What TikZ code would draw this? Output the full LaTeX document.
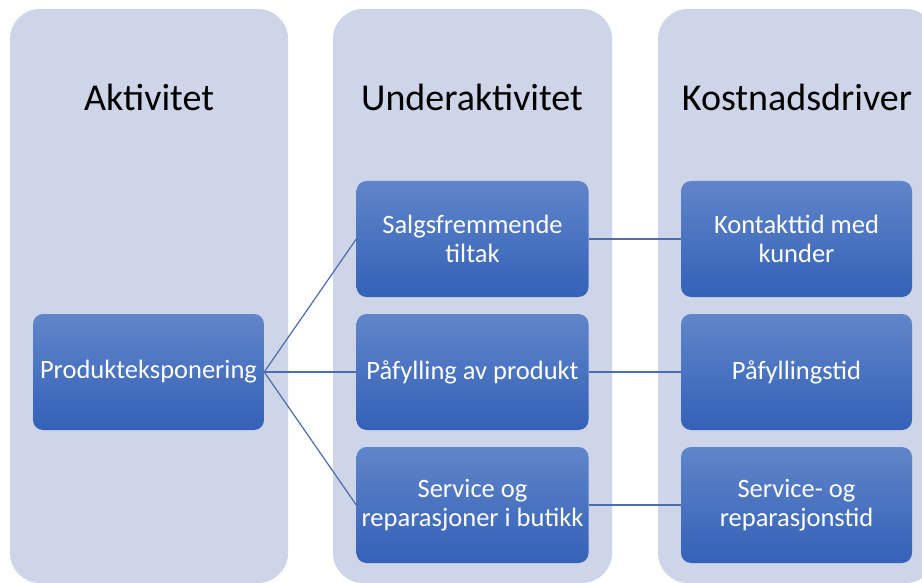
\documentclass[tikz,border=0pt]{standalone}
\usepackage{fontspec}
\setmainfont{Carlito}
\definecolor{colbg}{HTML}{CFD5E8}
\definecolor{boxtop}{HTML}{6085C9}
\definecolor{boxbot}{HTML}{3461B8}
\definecolor{linec}{HTML}{4C6CAD}
\tikzset{
  colbox/.style={fill=colbg, rounded corners=30pt, draw=none},
  title/.style={font=\fontsize{38}{44}\selectfont, text=black, anchor=center},
  itembox/.style={rectangle, rounded corners=10pt, top color=boxtop, bottom color=boxbot, draw=none,
    minimum width=232pt, minimum height=116pt, text=white, align=center,
    font=\fontsize{26.5}{29}\selectfont, inner sep=0pt},
  conn/.style={draw=linec, line width=1.2pt}
}
\begin{document}
\begin{tikzpicture}[x=1pt,y=-1pt]
\useasboundingbox (0,0) rectangle (922,583);
\clip (0,0) rectangle (922,583);
\fill[white] (0,0) rectangle (922,583);
% columns
\path[colbox] (10,9) rectangle (288,583);
\path[colbox] (333,9) rectangle (612,583);
\path[colbox] (658,9) rectangle (936,583);
% titles
\node[title] (t1) at (149,97) {Aktivitet};
\node[title] (t2) at (472,97) {Underaktivitet};
\node[title] (t3) at (797,97) {Kostnadsdriver};
% boxes
\node[itembox, minimum width=231pt] (a) at (148.5,372) {Produkteksponering};
\node[itembox] (b1) at (472.5,239) {Salgsfremmende\\tiltak};
\node[itembox] (b2) at (472.5,372) {Påfylling av produkt};
\node[itembox] (b3) at (472.5,505) {Service og\\reparasjoner i butikk};
\node[itembox, minimum width=231pt] (c1) at (796.5,239) {Kontakttid med\\kunder};
\node[itembox, minimum width=231pt] (c2) at (796.5,372) {Påfyllingstid};
\node[itembox, minimum width=231pt] (c3) at (796.5,505) {Service- og\\reparasjonstid};
% connectors
\draw[conn] (a.east) -- (b1.west);
\draw[conn] (a.east) -- (b2.west);
\draw[conn] (a.east) -- (b3.west);
\draw[conn] (b1.east) -- (c1.west);
\draw[conn] (b2.east) -- (c2.west);
\draw[conn] (b3.east) -- (c3.west);
\end{tikzpicture}
\end{document}
